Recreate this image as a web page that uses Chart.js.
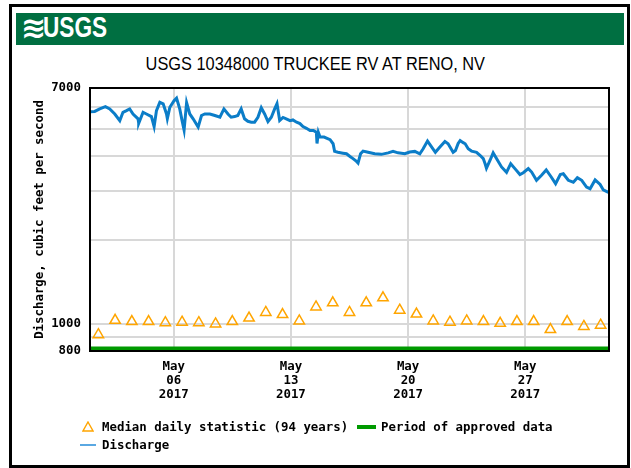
<!DOCTYPE html>
<html>
<head>
<meta charset="utf-8">
<script src="https://cdn.jsdelivr.net/npm/chart.js@4.4.1/dist/chart.umd.min.js"></script>
<style>
  body { margin: 0; background: #fff; }
  #page { position: relative; width: 631px; height: 468px; overflow: hidden; }
  #frame { position: absolute; left: 9px; top: 4px; width: 615px; height: 458px; border: 3px solid #000; }
  #banner { position: absolute; left: 16px; top: 13px; width: 608px; height: 32px; background: #006f41; }
  #wave { position: absolute; left: 21px; top: 10px; color: #fff; font: bold 30px "DejaVu Sans", sans-serif; }
  #logo { position: absolute; left: 43px; top: 11px; color: #fff; font: bold 29px "Liberation Sans", sans-serif; transform: scaleX(0.78); transform-origin: 0 0; }
  #title { position: absolute; left: 0; top: 53px; width: 631px; text-align: center; }
  #title span { display: inline-block; font: 19px "Liberation Sans", sans-serif; color: #000; transform: scaleX(0.86); transform-origin: 50% 0; white-space: nowrap; }
  canvas { position: absolute; left: 0; top: 0; }
  #legend { position: absolute; left: 0; top: 0; font: bold 12.4px "DejaVu Sans Mono", monospace; color: #000; }
  .item { position: absolute; white-space: pre; }
</style>
</head>
<body>
<div id="page">
  <div id="frame"></div>
  <div id="banner"></div>
  <div id="wave">&#8779;</div>
  <div id="logo">USGS</div>
  <div id="title"><span>USGS 10348000 TRUCKEE RV AT RENO, NV</span></div>
  <canvas id="chart" width="631" height="468"></canvas>
  <div id="legend"></div>
</div>
<script>
// days since May 1 2017 00:00
const dischargeDays = [0.01,0.28,0.58,0.92,1.18,1.48,1.78,1.97,2.18,2.37,
  2.57,2.87,2.91,3.17,3.37,3.67,3.83,3.97,4.17,4.37,
  4.57,4.62,4.77,5.02,5.17,5.36,5.50,5.62,5.77,5.96,
  6.16,6.46,6.66,6.86,7.16,7.46,7.76,8.00,8.24,8.43,
  8.64,8.83,9.03,9.23,9.43,9.63,9.83,10.03,10.23,10.43,
  10.63,10.83,11.03,11.17,11.33,11.53,11.72,11.95,12.12,12.34,
  12.54,12.72,12.93,13.14,13.34,13.52,13.56,13.64,13.74,13.98,
  14.34,14.52,14.61,14.81,15.11,15.32,15.53,15.71,15.92,16.01,
  16.16,16.31,16.61,17.01,17.40,17.81,18.10,18.40,18.80,19.10,
  19.40,19.70,19.90,20.16,20.39,20.63,20.90,21.20,21.39,21.69,
  21.83,21.99,22.11,22.29,22.41,22.59,22.79,23.09,23.31,23.49,
  23.61,23.68,23.89,24.08,24.28,24.58,24.88,25.13,25.38,25.68,
  25.88,26.18,26.38,26.67,26.97,27.25,27.55,27.81,28.09,28.27,
  28.57,28.87,29.11,29.37,29.66,29.87,30.17,30.47,30.66,30.96];
const dischargeCfs = [5760,5770,5890,6000,5890,5650,5350,5730,5810,5890,
  5650,5430,5230,5730,5650,5530,5090,5810,6220,6140,
  5650,5440,5970,6300,6440,5890,5350,4950,6200,5650,
  5430,5070,5580,5650,5650,5580,5500,5890,5650,5500,
  5530,5580,5890,5430,5320,5280,5280,5500,5950,5650,
  5310,5500,5890,6150,5350,5490,5430,5350,5380,5280,
  5220,5090,5020,4930,4930,4860,4430,4850,4670,4670,
  4570,4420,4150,4120,4090,4070,3980,3910,3820,3770,
  4070,4160,4120,4070,4050,4100,4150,4100,4070,4130,
  4150,4070,4240,4520,4320,4120,4300,4500,4420,4120,
  4180,4430,4540,4460,4420,4240,4160,4120,4010,3910,
  3730,3610,3850,4100,3910,3650,3490,3750,3600,3430,
  3480,3600,3500,3270,3410,3560,3360,3180,3430,3450,
  3270,3220,3340,3270,3090,3050,3280,3160,3020,2960];

// median daily statistic, plotted at noon of each day
const medianDays = [0.5,1.5,2.5,3.5,4.5,5.5,6.5,7.5,8.5,9.5,10.5,11.5,12.5,13.5,14.5,15.5,
  16.5,17.5,18.5,19.5,20.5,21.5,22.5,23.5,24.5,25.5,26.5,27.5,28.5,29.5,30.5];
const medianCfs = [915,1030,1020,1020,1010,1015,1010,1000,1020,1050,1100,1080,1025,1150,1190,1100,
  1190,1240,1120,1085,1025,1015,1025,1020,1005,1020,1020,955,1020,980,990];

const approvedDays = [0, 31];
const approvedCfs = [800, 800];

const xTickDays = [5, 12, 19, 26];
const xTickLabels = [['May', '06', '2017'], ['May', '13', '2017'], ['May', '20', '2017'], ['May', '27', '2017']];
const yGridValues = [800, 900, 1000, 2000, 3000, 4000, 5000, 6000, 7000];
const yLabelValues = [800, 1000, 7000];

const legendLabels = ['Median daily statistic (94 years)', 'Period of approved data', 'Discharge'];

const monoFont = { family: '"DejaVu Sans Mono", monospace', size: 12.4, weight: 'bold', lineHeight: 1.12 };

const framePlugin = {
  id: 'frame',
  afterDatasetsDraw(chart) {
    const a = chart.chartArea;
    const ctx = chart.ctx;
    ctx.save();
    ctx.strokeStyle = '#000';
    ctx.lineWidth = 2;
    ctx.strokeRect(a.left, a.top, a.right - a.left, a.bottom - a.top);
    ctx.restore();
  }
};

const chart = new Chart(document.getElementById('chart'), {
  type: 'line',
  data: {
    datasets: [
      {
        label: legendLabels[2],
        data: dischargeDays.map((d, i) => ({ x: d, y: dischargeCfs[i] })),
        borderColor: '#0b7dc8',
        borderWidth: 3,
        pointRadius: 0,
        tension: 0
      },
      {
        label: legendLabels[0],
        data: medianDays.map((d, i) => ({ x: d, y: medianCfs[i] })),
        showLine: false,
        pointStyle: 'triangle',
        pointRadius: 6,
        borderWidth: 1.5,
        borderColor: '#ffa500',
        backgroundColor: 'rgba(255,255,255,0)'
      },
      {
        label: legendLabels[1],
        data: approvedDays.map((d, i) => ({ x: d, y: approvedCfs[i] })),
        borderColor: '#009a00',
        borderWidth: 9,
        pointRadius: 0,
        clip: 0
      }
    ]
  },
  options: {
    responsive: false,
    animation: false,
    layout: { padding: { left: 30, top: 88, right: 22, bottom: 57 } },
    plugins: {
      legend: { display: false },
      tooltip: { enabled: false }
    },
    scales: {
      x: {
        type: 'linear',
        min: 0,
        max: 31,
        afterBuildTicks: (scale) => { scale.ticks = xTickDays.map(v => ({ value: v })); },
        afterFit: (scale) => { scale.height = 60; },
        ticks: {
          autoSkip: false,
          maxRotation: 0,
          padding: 9,
          color: '#000',
          font: monoFont,
          callback: (v) => xTickLabels[xTickDays.indexOf(v)]
        },
        grid: { color: '#d8d8d8', lineWidth: 2, drawTicks: false },
        border: { color: '#000', width: 2 }
      },
      y: {
        type: 'logarithmic',
        min: 800,
        max: 7000,
        afterBuildTicks: (scale) => { scale.ticks = yGridValues.map(v => ({ value: v })); },
        afterFit: (scale) => { scale.width = 60; },
        title: {
          display: true,
          text: 'Discharge, cubic feet per second',
          color: '#000',
          font: monoFont,
          padding: { top: 3, bottom: 0 }
        },
        ticks: {
          autoSkip: false,
          padding: 9,
          color: '#000',
          font: monoFont,
          callback: (v) => yLabelValues.includes(v) ? String(v) : ''
        },
        grid: { color: '#d8d8d8', lineWidth: 2, drawTicks: false },
        border: { color: '#000', width: 2 }
      }
    }
  },
  plugins: [framePlugin]
});

// legend built from the chart's datasets
const ds = chart.data.datasets;
const legend = document.getElementById('legend');
legend.innerHTML =
  '<svg class="item" style="left:82px;top:421px" width="12" height="11"><polygon points="6,1 11,10 1,10" fill="none" stroke="' + ds[1].borderColor + '" stroke-width="1.4"/></svg>' +
  '<div class="item" style="left:102px;top:419px">' + ds[1].label + '</div>' +
  '<div class="item" style="left:357px;top:425px;width:19px;height:4px;background:' + ds[2].borderColor + '"></div>' +
  '<div class="item" style="left:381px;top:419px">' + ds[2].label + '</div>' +
  '<div class="item" style="left:80px;top:444px;width:16px;height:2px;background:#5aa8e2"></div>' +
  '<div class="item" style="left:102px;top:437px">' + ds[0].label + '</div>';
</script>
</body>
</html>
